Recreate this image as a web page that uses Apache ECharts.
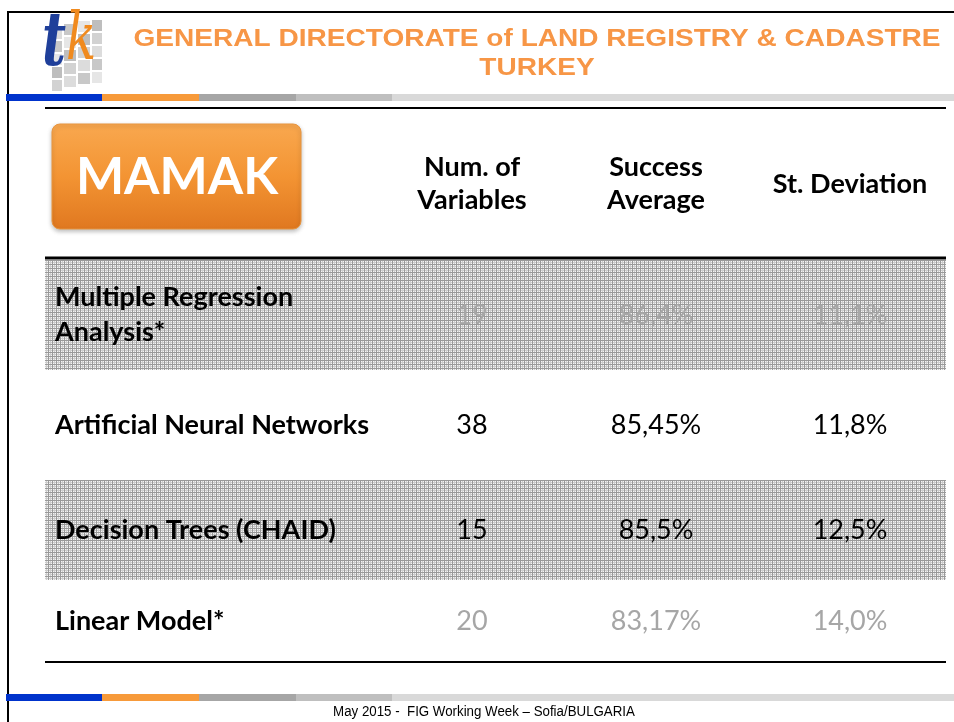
<!DOCTYPE html>
<html>
<head>
<meta charset="utf-8">
<script src="https://cdn.jsdelivr.net/npm/echarts@6/dist/echarts.min.js"></script>
<style>
  html, body { margin: 0; padding: 0; background: #ffffff; }
  #chart { width: 954px; height: 722px; }
</style>
</head>
<body>
<div id="chart"></div>
<script>
// table data
const methods = ['Multiple Regression\nAnalysis*', 'Artificial Neural Networks', 'Decision Trees (CHAID)', 'Linear Model*']
const numVariables = [19, 38, 15, 20]
const successAverage = [86.4, 85.45, 85.5, 83.17]
const stDeviation = [11.1, 11.8, 12.5, 14.0]
const shadedRows = [true, false, true, false]
const greyRows = [true, false, false, true]
const headers = ['Num. of\nVariables', 'Success\nAverage', 'St. Deviation']

// layout (table units, relative to the top rule)
const TABLE_W = 901
const TABLE_H = 404
const ROW_EDGES = [2, 112, 222, 322, 404]
const COL_X = [10, 427, 611, 805]

const ORANGE = '#f79646'
const TEXT_FONT = 'Lato, "Open Sans", sans-serif'
const TITLE_FONT = 'bold 23px "Liberation Sans", Arial, sans-serif'

function fmt(v, digits) {
  const s = digits == null ? String(v) : v.toFixed(digits)
  return s.replace('.', ',') + '%'
}

function hatchPattern() {
  const c = document.createElement('canvas')
  c.width = 4
  c.height = 4
  const ctx = c.getContext('2d')
  ctx.fillStyle = '#f4f4f4'
  ctx.fillRect(0, 0, 4, 4)
  ctx.fillStyle = '#cccccc'
  ctx.fillRect(2, 0, 1, 4)
  ctx.fillRect(0, 2, 4, 1)
  ctx.fillStyle = '#999999'
  ctx.fillRect(0, 0, 1, 4)
  ctx.fillRect(0, 0, 4, 1)
  return c
}

const chart = echarts.init(document.getElementById('chart'))
const hatch = hatchPattern()

const rows = methods.map((m, i) => ({
  name: m,
  value: [i, numVariables[i], successAverage[i], stDeviation[i]]
}))

function bandBar(y, h, x0) {
  const parts = [
    ['#0033cc', 0, 96],
    ['#f79a3a', 96, 193],
    ['#a6a6a6', 193, 290],
    ['#bfbfbf', 290, 386],
    ['#d9d9d9', 386, 960]
  ]
  return parts.map(p => ({
    type: 'rect',
    shape: { x: x0 + p[1], y: y, width: p[2] - p[1], height: h },
    style: { fill: p[0] },
    silent: true
  }))
}

// logo tiles (perspective grid behind the letters)
const logoTiles = []
const tileCols = [[52, 10, 8], [64, 12, 4], [78, 12, 1], [92, 10, 0]]
tileCols.forEach((c, ci) => {
  for (let r = 0; r < 5; r++) {
    const shade = ['#dcdcdc', '#c8c8c8', '#e6e6e6', '#bebebe', '#d2d2d2'][(r + ci) % 5]
    logoTiles.push({
      type: 'rect',
      shape: { x: c[0], y: 20 + c[2] + r * 13, width: c[1], height: 11 },
      style: { fill: shade },
      silent: true
    })
  }
})

const option = {
  animation: false,
  backgroundColor: '#ffffff',
  grid: { left: 45, top: 258, width: TABLE_W, height: TABLE_H },
  xAxis: { type: 'value', min: 0, max: TABLE_W, show: false },
  yAxis: { type: 'value', min: 0, max: TABLE_H, inverse: true, show: false },
  graphic: [
    // slide frame
    { type: 'line', shape: { x1: 7, y1: 12, x2: 954, y2: 12 }, style: { stroke: '#000', lineWidth: 2 } },
    { type: 'line', shape: { x1: 8, y1: 11, x2: 8, y2: 722 }, style: { stroke: '#000', lineWidth: 2 } },
    ...bandBar(94, 7, 6),
    ...bandBar(694, 7, 6),
    ...logoTiles,
    {
      type: 'text', x: 42, y: 8, scaleY: 1.45,
      style: { text: 't', font: 'italic bold 52px "DejaVu Serif", serif', fill: '#1f3f9a' }
    },
    {
      type: 'text', x: 66, y: 10, scaleY: 1.3,
      style: { text: 'k', font: 'italic 50px "DejaVu Serif", serif', fill: '#f08a1e' }
    },
    // title
    {
      type: 'text', x: 537, y: 40, scaleX: 1.22,
      style: {
        text: 'GENERAL DIRECTORATE of LAND REGISTRY & CADASTRE',
        font: TITLE_FONT, fill: ORANGE, align: 'center', verticalAlign: 'middle'
      }
    },
    {
      type: 'text', x: 537, y: 69, scaleX: 1.22,
      style: {
        text: 'TURKEY',
        font: TITLE_FONT, fill: ORANGE, align: 'center', verticalAlign: 'middle'
      }
    },
    { type: 'line', shape: { x1: 45, y1: 108, x2: 946, y2: 108 }, style: { stroke: '#000', lineWidth: 2 } },
    // MAMAK button
    {
      type: 'rect',
      shape: { x: 52, y: 124, width: 249, height: 105, r: 8 },
      style: {
        fill: new echarts.graphic.LinearGradient(0, 0, 0, 1, [
          { offset: 0, color: '#f9a84f' },
          { offset: 0.5, color: '#f39433' },
          { offset: 1, color: '#e07820' }
        ]),
        stroke: '#e8953f', lineWidth: 1,
        shadowBlur: 4, shadowColor: 'rgba(0,0,0,0.25)', shadowOffsetY: 2
      }
    },
    {
      type: 'text', x: 177, y: 178,
      style: {
        text: 'MAMAK', font: 'bold 51px ' + TEXT_FONT, fill: '#ffffff',
        align: 'center', verticalAlign: 'middle'
      }
    },
    // column headers
    ...headers.map((h, i) => ({
      type: 'text', x: 45 + COL_X[i + 1], y: 184,
      style: {
        text: h, font: 'bold 27px ' + TEXT_FONT, fill: '#000',
        align: 'center', verticalAlign: 'middle', lineHeight: 33
      }
    })),
    // rules
    { type: 'line', shape: { x1: 45, y1: 258, x2: 946, y2: 258 }, style: { stroke: '#000', lineWidth: 3 } },
    { type: 'line', shape: { x1: 45, y1: 662, x2: 946, y2: 662 }, style: { stroke: '#000', lineWidth: 2 } },
    // footer
    {
      type: 'text', x: 484, y: 712, scaleX: 0.95,
      style: {
        text: 'May 2015 -  FIG Working Week \u2013 Sofia/BULGARIA',
        font: '14px "Liberation Sans Narrow", "Liberation Sans", Arial, sans-serif',
        fill: '#000', align: 'center', verticalAlign: 'middle'
      }
    }
  ],
  series: [
    {
      type: 'custom',
      silent: true,
      data: rows,
      renderItem: (params, api) => {
        const i = api.value(0)
        const top = api.coord([0, ROW_EDGES[i]])
        const bottom = api.coord([TABLE_W, ROW_EDGES[i + 1]])
        const midY = api.coord([0, (ROW_EDGES[i] + ROW_EDGES[i + 1]) / 2])[1]
        const valColor = greyRows[i] ? '#a6a6a6' : '#000'
        const cells = [
          String(api.value(1)),
          fmt(api.value(2)),
          fmt(api.value(3), 1)
        ]
        const children = []
        if (shadedRows[i]) {
          children.push({
            type: 'rect',
            shape: { x: top[0], y: top[1], width: bottom[0] - top[0], height: bottom[1] - top[1] },
            style: { fill: { image: hatch, repeat: 'repeat' } }
          })
        }
        children.push({
          type: 'text',
          x: api.coord([COL_X[0], 0])[0],
          y: midY,
          style: {
            text: methods[i], font: 'bold 27px ' + TEXT_FONT, fill: '#000',
            align: 'left', verticalAlign: 'middle', lineHeight: 35
          }
        })
        cells.forEach((t, c) => {
          children.push({
            type: 'text',
            x: api.coord([COL_X[c + 1], 0])[0],
            y: midY,
            style: {
              text: t, font: '27px ' + TEXT_FONT, fill: valColor,
              align: 'center', verticalAlign: 'middle'
            }
          })
        })
        return { type: 'group', children: children }
      }
    }
  ]
}

chart.setOption(option)
</script>
</body>
</html>
